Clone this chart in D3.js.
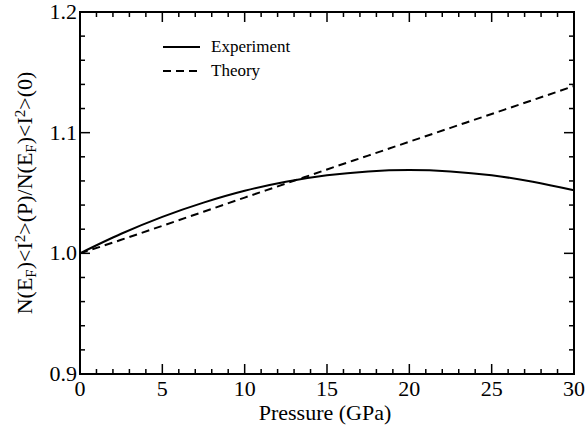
<!DOCTYPE html>
<html>
<head>
<meta charset="utf-8">
<script src="https://cdn.jsdelivr.net/npm/d3@7"></script>
<style>
  body { margin: 0; background: #fff; }
</style>
</head>
<body>
<svg width="585" height="428" font-family="'Liberation Serif', 'DejaVu Serif', 'Times New Roman', serif"></svg>
<script>
// values
const pressure = [0, 2.5, 5, 7.5, 10, 12.5, 15, 17.5, 20, 22.5, 25, 27.5, 30];
const experiment = [1.000, 1.0162, 1.0302, 1.0420, 1.0518, 1.0593, 1.0647, 1.0679, 1.0690, 1.0679, 1.0647, 1.0593, 1.0522];
const theory = [1.000, 1.0112, 1.0228, 1.0345, 1.0462, 1.0578, 1.0695, 1.0810, 1.0925, 1.1040, 1.1155, 1.1270, 1.1387];
const xTicks = [0, 5, 10, 15, 20, 25, 30];
const yTicks = [0.9, 1.0, 1.1, 1.2];
const legendNames = ["Experiment", "Theory"];

const svg = d3.select("svg");
const m = {left: 80, right: 574, top: 12, bottom: 374};

const x = d3.scaleLinear().domain([0, 30]).range([m.left, m.right]);
const y = d3.scaleLinear().domain([0.9, 1.2]).range([m.bottom, m.top]);

// ticks, all pointing inward, on all four sides
const minorX = d3.range(0, 31, 1).filter(v => v % 5 !== 0);
const minorY = d3.range(0, 16).map(i => +(0.9 + i * 0.02).toFixed(2)).filter(v => !yTicks.includes(v));

const ticks = svg.append("g").attr("stroke", "#000").attr("stroke-width", 1.5);
function tickX(vals, len) {
  vals.forEach(v => {
    ticks.append("line").attr("x1", x(v)).attr("x2", x(v)).attr("y1", m.bottom).attr("y2", m.bottom - len);
    ticks.append("line").attr("x1", x(v)).attr("x2", x(v)).attr("y1", m.top).attr("y2", m.top + len);
  });
}
function tickY(vals, len) {
  vals.forEach(v => {
    ticks.append("line").attr("y1", y(v)).attr("y2", y(v)).attr("x1", m.left).attr("x2", m.left + len);
    ticks.append("line").attr("y1", y(v)).attr("y2", y(v)).attr("x1", m.right).attr("x2", m.right - len);
  });
}
tickX(xTicks, 10);
tickX(minorX, 5);
tickY(yTicks, 10);
tickY(minorY, 5);

svg.append("rect")
  .attr("x", m.left).attr("y", m.top)
  .attr("width", m.right - m.left).attr("height", m.bottom - m.top)
  .attr("fill", "none").attr("stroke", "#000").attr("stroke-width", 2);

// tick labels
svg.append("g").selectAll("text").data(xTicks).enter().append("text")
  .attr("x", d => x(d)).attr("y", m.bottom + 22)
  .attr("text-anchor", "middle").attr("font-size", 22)
  .text(d => d);
svg.append("g").selectAll("text").data(yTicks).enter().append("text")
  .attr("x", m.left - 3).attr("y", d => y(d) + 7)
  .attr("text-anchor", "end").attr("font-size", 22)
  .text(d => d.toFixed(1));

// axis titles
svg.append("text")
  .attr("x", (m.left + m.right) / 2 - 2).attr("y", 420)
  .attr("text-anchor", "middle").attr("font-size", 22)
  .text("Pressure (GPa)");

const yl = svg.append("text")
  .attr("transform", `translate(32,${(m.top + m.bottom) / 2}) rotate(-90)`)
  .attr("text-anchor", "middle").attr("font-size", 22);
const parts = [["N(E", 0], ["F", -1], [")<I", 0], ["2", 1], [">(P)/N(E", 0], ["F", -1], [")<I", 0], ["2", 1], [">(0)", 0]];
parts.forEach(([t, s]) => {
  const ts = yl.append("tspan").text(t);
  if (s !== 0) {
    ts.attr("font-size", 15).attr("baseline-shift", s > 0 ? "45%" : "-25%");
  }
});

// curves
const line = d3.line().x(d => x(d[0])).y(d => y(d[1])).curve(d3.curveMonotoneX);
svg.append("path")
  .datum(pressure.map((p, i) => [p, experiment[i]]))
  .attr("d", line).attr("fill", "none").attr("stroke", "#000").attr("stroke-width", 2);
svg.append("path")
  .datum(pressure.map((p, i) => [p, theory[i]]))
  .attr("d", line).attr("fill", "none").attr("stroke", "#000").attr("stroke-width", 2)
  .attr("stroke-dasharray", "8,5");

// legend
const lg = svg.append("g");
legendNames.forEach((name, i) => {
  const ly = 47 + i * 24;
  lg.append("line").attr("x1", 163).attr("x2", 200).attr("y1", ly).attr("y2", ly)
    .attr("stroke", "#000").attr("stroke-width", 2)
    .attr("stroke-dasharray", i === 1 ? "8,5" : null);
  lg.append("text").attr("x", 211).attr("y", ly + 5).attr("font-size", 17).text(name);
});
</script>
</body>
</html>
